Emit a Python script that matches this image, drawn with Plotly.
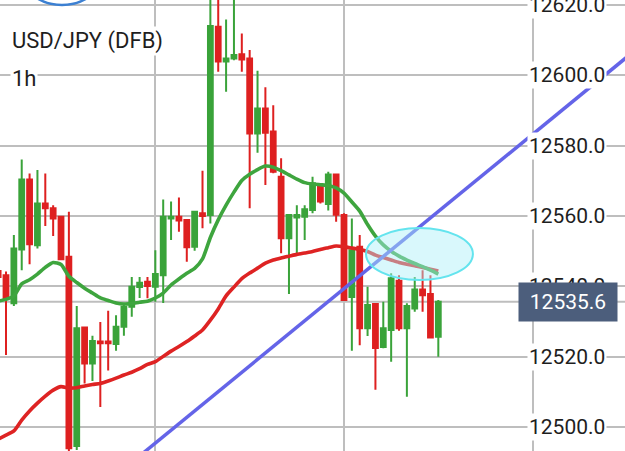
import plotly.graph_objects as go

# ---- data ----
candle_idx = list(range(-1, 56))
opens = [12544.4, 12543.2, 12535.2, 12550.5, 12570.4, 12551.7, 12563.6, 12562.2, 12559.8, 12548.4,
         12494.6, 12528.3, 12518.1, 12524.3, 12524.3, 12523.6, 12528.5, 12534.2, 12539.8, 12541.3,
         12539.9, 12543.2, 12559.3, 12559.8, 12558.9, 12551.3, 12560.8, 12560.3, 12613.8, 12603.9,
         12604.8, 12606.0, 12604.8, 12583.5, 12590.6, 12584.0, 12571.2, 12553.7, 12559.6, 12559.8,
         12561.7, 12568.5, 12563.4, 12571.8, 12560.3, 12537.0, 12551.3, 12528.1, 12535.0, 12522.8,
         12527.6, 12541.6, 12528.1, 12533.7, 12539.1, 12537.8, 12525.7]
highs = [12545.2, 12544.2, 12554.6, 12576.1, 12572.1, 12573.1, 12572.1, 12563.1, 12560.0, 12561.2,
         12534.4, 12528.4, 12526.0, 12529.9, 12533.1, 12531.8, 12534.9, 12542.7, 12542.7, 12542.7,
         12550.3, 12564.7, 12564.1, 12565.3, 12559.1, 12561.5, 12572.9, 12623.0, 12622.5, 12615.9,
         12622.5, 12611.9, 12607.2, 12601.3, 12596.6, 12591.5, 12576.4, 12560.6, 12563.1, 12563.1,
         12571.2, 12569.4, 12572.6, 12572.1, 12560.8, 12559.3, 12554.6, 12539.9, 12535.3, 12535.6,
         12543.7, 12543.2, 12535.2, 12542.7, 12544.6, 12543.2, 12536.1]
lows = [12541.8, 12520.5, 12534.4, 12544.6, 12546.3, 12550.8, 12557.2, 12554.3, 12547.5, 12492.0,
        12493.5, 12512.4, 12513.1, 12505.7, 12516.1, 12521.7, 12526.0, 12531.4, 12536.7, 12536.6,
        12535.6, 12535.3, 12553.2, 12555.5, 12547.0, 12550.1, 12556.5, 12557.9, 12601.0, 12595.3,
        12604.3, 12601.0, 12562.2, 12578.0, 12568.8, 12572.2, 12549.4, 12537.8, 12549.4, 12553.2,
        12560.8, 12563.6, 12561.6, 12558.4, 12536.1, 12521.7, 12523.3, 12525.9, 12510.6, 12522.4,
        12518.6, 12527.4, 12508.6, 12532.8, 12532.8, 12525.5, 12520.0]
closes = [12542.7, 12536.7, 12550.8, 12570.4, 12552.0, 12563.6, 12562.2, 12559.3, 12547.7, 12494.0,
          12528.1, 12518.1, 12524.5, 12523.8, 12523.8, 12528.5, 12534.2, 12539.9, 12541.0, 12540.1,
          12543.5, 12559.8, 12559.8, 12558.7, 12551.1, 12561.2, 12560.0, 12614.0, 12603.9, 12604.8,
          12605.8, 12604.5, 12583.5, 12590.6, 12583.7, 12572.6, 12553.7, 12560.3, 12560.3, 12561.9,
          12569.3, 12564.1, 12571.8, 12560.4, 12536.1, 12550.3, 12528.1, 12534.7, 12522.5, 12528.1,
          12542.3, 12528.1, 12534.4, 12539.1, 12537.5, 12525.5, 12535.6]
ma_fast = [12535.8, 12536.3, 12537.3, 12540.7, 12541.9, 12543.5, 12545.4, 12546.8, 12546.2, 12542.9,
           12541.1, 12539.5, 12538.1, 12536.7, 12536.0, 12535.3, 12535.0, 12535.1, 12535.5, 12535.8,
           12536.7, 12538.1, 12540.4, 12542.1, 12543.7, 12545.1, 12547.8, 12553.9, 12558.9, 12563.1,
           12566.8, 12570.1, 12571.9, 12573.2, 12574.2, 12573.9, 12572.9, 12571.7, 12570.5, 12569.5,
           12569.1, 12568.9, 12568.7, 12568.0, 12566.5, 12564.0, 12561.4, 12557.6, 12554.3, 12551.8,
           12550.0, 12548.6, 12547.5, 12546.5, 12545.6, 12544.6, 12543.5]
ma_slow = [12496.6, 12497.7, 12498.9, 12502.0, 12504.6, 12506.8, 12508.8, 12510.5, 12511.5, 12511.1,
           12511.2, 12511.7, 12512.1, 12512.4, 12513.1, 12513.9, 12514.8, 12515.6, 12516.6, 12517.8,
           12518.6, 12520.1, 12521.6, 12522.9, 12524.3, 12525.9, 12527.6, 12530.4, 12533.6, 12537.3,
           12539.8, 12542.2, 12543.8, 12545.2, 12546.6, 12547.5, 12548.1, 12548.6, 12549.1, 12549.5,
           12549.9, 12550.5, 12551.0, 12551.5, 12551.3, 12550.9, 12550.5, 12549.9, 12548.9, 12548.2,
           12547.5, 12546.8, 12546.3, 12545.9, 12545.4, 12544.9, 12544.4]
y_ticks = [12500, 12520, 12540, 12560, 12580, 12600, 12620]
last_price = 12535.6
trend_x = [14, 82]
trend_y = [12486.3, 12610.7]
zone_x = [45.8, 59.4]
zone_y = [12541.8, 12556.6]
title_text = "USD/JPY (DFB)"
interval_text = "1h"

GREEN = "rgb(58,163,58)"
RED = "rgb(222,32,32)"
GRID = "rgb(190,190,190)"
FONT = "Roboto"

fig = go.Figure()
fig.add_trace(go.Candlestick(
    x=candle_idx, open=opens, high=highs, low=lows, close=closes,
    increasing=dict(line=dict(color=GREEN, width=2), fillcolor=GREEN),
    decreasing=dict(line=dict(color=RED, width=2), fillcolor=RED),
    whiskerwidth=0, showlegend=False, hoverinfo="skip"))
fig.add_trace(go.Scatter(x=candle_idx, y=ma_slow, mode="lines",
                         line=dict(color="rgb(222,35,35)", width=3.6, shape="spline", smoothing=0.6),
                         showlegend=False, hoverinfo="skip"))
fig.add_trace(go.Scatter(x=candle_idx, y=ma_fast, mode="lines",
                         line=dict(color="rgb(62,165,62)", width=3.6, shape="spline", smoothing=0.6),
                         showlegend=False, hoverinfo="skip"))

shapes = [
    dict(type="line", xref="paper", x0=0, x1=1, yref="y", y0=last_price, y1=last_price,
         line=dict(color=GRID, width=2), layer="below"),
    dict(type="line", xref="x", yref="y", x0=trend_x[0], x1=trend_x[1], y0=trend_y[0], y1=trend_y[1],
         line=dict(color="rgb(100,100,232)", width=3.5), layer="above"),
    dict(type="circle", xref="x", yref="y", x0=zone_x[0], x1=zone_x[1], y0=zone_y[0], y1=zone_y[1],
         line=dict(color="rgb(100,228,238)", width=2), fillcolor="rgba(170,240,248,0.45)", layer="above"),
    dict(type="circle", xref="paper", yref="paper", x0=13.3 / 625, x1=110.7 / 625,
         y0=1 - 5 / 451, y1=1 + 92.4 / 451,
         line=dict(color="rgb(60,128,210)", width=2.5), layer="above"),
]

annotations = []
for t in y_ticks:
    annotations.append(dict(xref="paper", x=567 / 625, xanchor="center", yref="y", y=t, yanchor="middle",
                            text=f"{t:.1f}", showarrow=False, bgcolor="white", borderpad=1,
                            font=dict(family=FONT, size=21, color="#1e1e1e")))
annotations.append(dict(xref="paper", x=567.5 / 625, xanchor="center", yref="y", y=last_price,
                        yanchor="middle", text=f"{last_price:.1f}", showarrow=False,
                        bgcolor="rgb(76,94,124)", width=98, height=38, borderpad=0,
                        font=dict(family=FONT, size=21, color="white")))
annotations.append(dict(xref="paper", x=9.5 / 625, xanchor="left", yref="paper", y=1 - 41 / 451,
                        yanchor="middle", text=title_text, showarrow=False, bgcolor="white", borderpad=1,
                        font=dict(family=FONT, size=22, color="#1e1e1e")))
annotations.append(dict(xref="paper", x=9.5 / 625, xanchor="left", yref="paper", y=1 - 78 / 451,
                        yanchor="middle", text=interval_text, showarrow=False, bgcolor="white", borderpad=1,
                        font=dict(family=FONT, size=22, color="#1e1e1e")))

fig.update_layout(
    width=625, height=451, margin=dict(l=0, r=0, t=0, b=0),
    paper_bgcolor="white", plot_bgcolor="white",
    boxgap=0.22, boxgroupgap=0.22,
    shapes=shapes, annotations=annotations,
    xaxis=dict(range=[-0.763, 78.75], showticklabels=False, ticks="", showgrid=True,
               gridcolor=GRID, gridwidth=2, tick0=19, dtick=24, zeroline=False,
               rangeslider=dict(visible=False), showline=False),
    yaxis=dict(range=[12493.2, 12621.42], showticklabels=False, ticks="", showgrid=True,
               gridcolor=GRID, gridwidth=2, tick0=12500, dtick=20, zeroline=False, showline=False),
)
fig.write_html("out.html")
